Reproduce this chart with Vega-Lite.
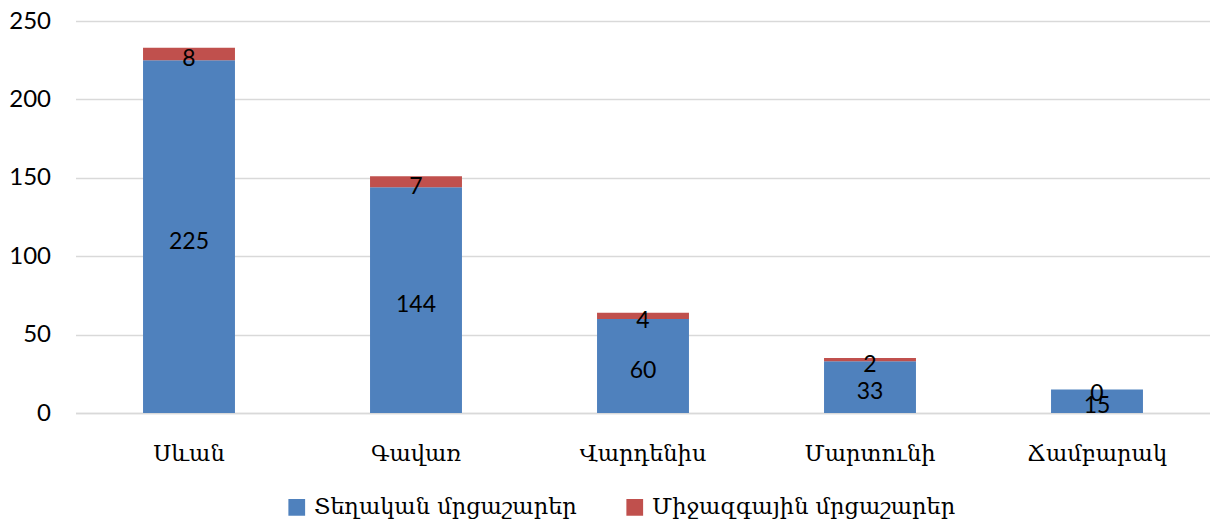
{
  "$schema": "https://vega.github.io/schema/vega-lite/v6.json",
  "width": 1135,
  "height": 392,
  "autosize": {"type": "none"},
  "padding": {"left": 75.5, "top": 21, "right": 0, "bottom": 112},
  "background": "white",
  "config": {"view": {"stroke": null}},
  "data": {
    "values": [
      {"city": "Սևան", "series": "Տեղական մրցաշարեր", "ord": 1, "value": 225},
      {"city": "Սևան", "series": "Միջազգային մրցաշարեր", "ord": 2, "value": 8},
      {"city": "Գավառ", "series": "Տեղական մրցաշարեր", "ord": 1, "value": 144},
      {"city": "Գավառ", "series": "Միջազգային մրցաշարեր", "ord": 2, "value": 7},
      {"city": "Վարդենիս", "series": "Տեղական մրցաշարեր", "ord": 1, "value": 60},
      {"city": "Վարդենիս", "series": "Միջազգային մրցաշարեր", "ord": 2, "value": 4},
      {"city": "Մարտունի", "series": "Տեղական մրցաշարեր", "ord": 1, "value": 33},
      {"city": "Մարտունի", "series": "Միջազգային մրցաշարեր", "ord": 2, "value": 2},
      {"city": "Ճամբարակ", "series": "Տեղական մրցաշարեր", "ord": 1, "value": 15},
      {"city": "Ճամբարակ", "series": "Միջազգային մրցաշարեր", "ord": 2, "value": 0}
    ]
  },
  "encoding": {
    "x": {
      "field": "city",
      "type": "nominal",
      "sort": null,
      "scale": {"paddingInner": 0.595, "paddingOuter": 0.2975},
      "axis": {
        "title": null,
        "labelAngle": 0,
        "ticks": false,
        "domain": true,
        "domainColor": "#d9d9d9",
        "domainWidth": 1.5,
        "labelFont": "DejaVu Serif",
        "labelFontSize": 22.5,
        "labelColor": "#000000",
        "labelPadding": 29
      }
    }
  },
  "layer": [
    {
      "mark": {"type": "bar"},
      "encoding": {
        "y": {
          "field": "value",
          "type": "quantitative",
          "stack": "zero",
          "scale": {"domain": [0, 250], "nice": false},
          "axis": {
            "title": null,
            "values": [0, 50, 100, 150, 200, 250],
            "grid": true,
            "gridColor": "#d9d9d9",
            "gridWidth": 1.5,
            "domain": false,
            "ticks": false,
            "labelFont": "Lato",
            "labelFontSize": 24,
            "labelColor": "#000000",
            "labelPadding": 25
          }
        },
        "color": {
          "field": "series",
          "type": "nominal",
          "sort": null,
          "scale": {
            "domain": ["Տեղական մրցաշարեր", "Միջազգային մրցաշարեր"],
            "range": ["#4F81BD", "#C0504D"]
          },
          "legend": {
            "title": null,
            "orient": "none",
            "direction": "horizontal",
            "legendX": 210,
            "legendY": 475,
            "symbolType": "square",
            "symbolSize": 280,
            "symbolStrokeWidth": 0,
            "symbolOpacity": 1,
            "labelFont": "DejaVu Serif",
            "labelFontSize": 22.5,
            "labelLimit": 0,
            "labelColor": "#000000",
            "labelOffset": 6,
            "columnPadding": 46
          }
        },
        "order": {"field": "ord", "type": "quantitative"}
      }
    },
    {
      "transform": [
        {"stack": "value", "groupby": ["city"], "sort": [{"field": "ord"}], "as": ["v0", "v1"]},
        {"calculate": "(datum.v0 + datum.v1) / 2", "as": "mid"}
      ],
      "mark": {"type": "text", "font": "Lato", "fontSize": 23, "color": "#000000", "baseline": "middle", "dy": 5},
      "encoding": {
        "y": {"field": "mid", "type": "quantitative"},
        "text": {"field": "value", "type": "quantitative"}
      }
    }
  ]
}
